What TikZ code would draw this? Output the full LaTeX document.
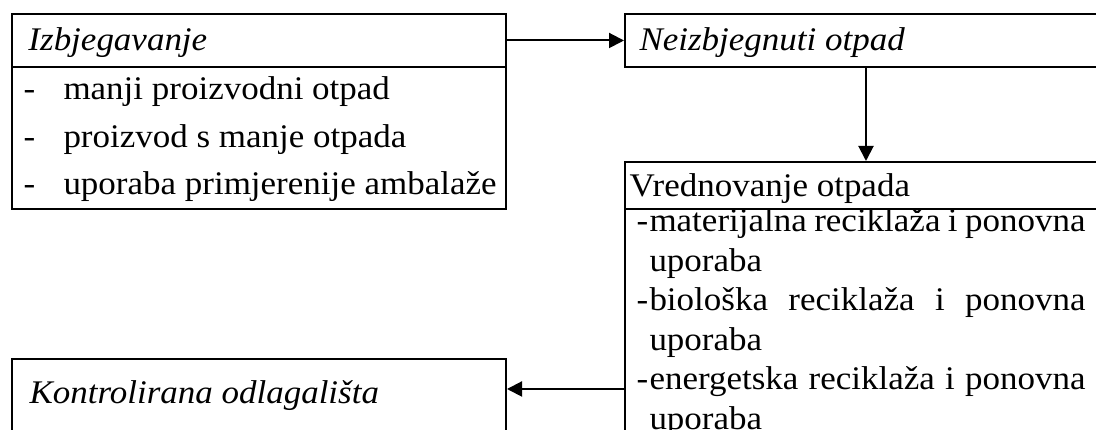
\documentclass[tikz,border=0pt]{standalone}
\usepackage{fontspec}
\setmainfont{Liberation Serif}[FakeStretch=1.06]
\usetikzlibrary{positioning,arrows.meta}

\tikzset{
    box/.style={draw, line width=0.8pt, inner sep=0pt},
    txt/.style={inner sep=0pt, anchor=base west, font=\fontsize{13.2}{15}\selectfont},
    ital/.style={txt, font=\fontsize{13.2}{15}\selectfont\itshape},
    flow/.style={draw, line width=0.8pt, -{Triangle[length=6pt,width=6pt]}}
}

\begin{document}
\begin{tikzpicture}[x=0.4pt, y=-0.4pt]

    \useasboundingbox (0,0) rectangle (1096,430);
    \clip (0,0) rectangle (1096,430);

    % boxes
    \node[box, minimum width=494*0.4pt, minimum height=53*0.4pt] (izbHead) at (259,40.5) {};
    \node[box, minimum width=494*0.4pt, minimum height=142*0.4pt] (izbBody) at (259,138) {};
    \node[box, minimum width=482*0.4pt, minimum height=53*0.4pt] (neiHead) at (866,40.5) {};
    \node[box, minimum width=482*0.4pt, minimum height=47*0.4pt] (vreHead) at (866,185.5) {};
    \node[box, minimum width=482*0.4pt, minimum height=251*0.4pt] (vreBody) at (866,334.5) {};
    \node[box, minimum width=494*0.4pt, minimum height=101*0.4pt] (konBox) at (259,409.5) {};

    % titles
    \node[ital] (izbTitle) at (28,51) {Izbjegavanje};
    \node[ital] (neiTitle) at (639,51) {Neizbjegnuti otpad};
    \node[txt] (vreTitle) at (629,197) {Vrednovanje otpada};
    \node[ital] (konTitle) at (29,404) {Kontrolirana odlagališta};

    % list of avoidance measures
    \foreach \txt [count=\i] in {manji proizvodni otpad, proizvod s manje otpada, uporaba primjerenije ambalaže} {
        \node[txt] (izbDash\i) at (23, {100+47.5*(\i-1)}) {-};
        \node[txt] (izbItem\i) at (63, {100+47.5*(\i-1)}) {\txt};
    }

    % list of valorisation
    \foreach \txt [count=\i] in {materijalna, biološka, energetska} {
        \node[txt] (vreDash\i) at (636, {232+79*(\i-1)}) {-};
        \node[txt] (vreItem\i) at (649, {232+79*(\i-1)}) {\makebox[174.4pt][s]{\txt\ reciklaža i ponovna}};
        \node[txt] (vreCont\i) at (649, {271.5+79*(\i-1)}) {uporaba};
    }

    % arrows
    \coordinate (konIn) at ([yshift=8.2pt]konBox.east);
    \path[flow] (izbHead.east) -- (neiHead.west);
    \path[flow] (neiHead.south) -- (vreHead.north);
    \path[flow] (vreBody.west |- konIn) -- (konIn);

\end{tikzpicture}
\end{document}
